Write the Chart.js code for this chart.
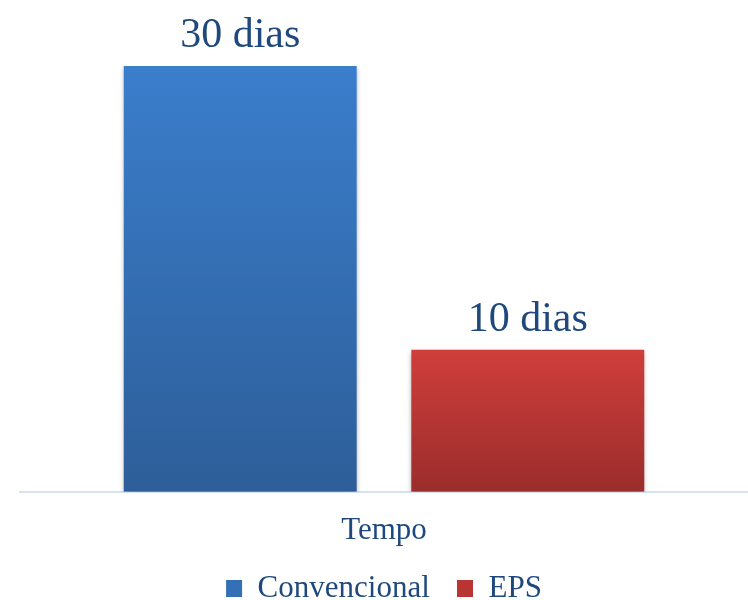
<!DOCTYPE html>
<html>
<head>
<meta charset="utf-8">
<script src="https://cdn.jsdelivr.net/npm/chart.js@4/dist/chart.umd.min.js"></script>
<style>
  html, body { margin: 0; padding: 0; background: #fff; }
  #wrap { width: 748px; height: 600px; }
</style>
</head>
<body>
<div id="wrap"><canvas id="chart"></canvas></div>
<script>
const categories = ['Tempo'];
const seriesNames = ['Convencional', 'EPS'];
const convencional = [30];
const eps = [10];
const unit = 'dias';

const textColor = '#1F497D';
const serif = '"Liberation Serif", "Times New Roman", serif';

// top / bottom colours of each bar's gradient
const blueStops = ['#3B7ECC', '#2D5E99'];
const redStops = ['#CF3E3B', '#9A2D2B'];

function barGradient(stops) {
    return function (ctx) {
        const chart = ctx.chart;
        if (!chart.chartArea || !chart.scales.y) return stops[0];
        const y = chart.scales.y;
        const v = ctx.raw == null ? y.max : ctx.raw;
        const top = y.getPixelForValue(v);
        const bottom = y.getPixelForValue(0);
        const g = chart.ctx.createLinearGradient(0, top, 0, bottom);
        g.addColorStop(0, stops[0]);
        g.addColorStop(1, stops[1]);
        return g;
    };
}

// value labels above bars
const barLabels = {
    id: 'barLabels',
    afterDatasetsDraw(chart) {
        const c = chart.ctx;
        c.save();
        c.font = '42px ' + serif;
        c.fillStyle = textColor;
        c.textAlign = 'center';
        c.textBaseline = 'alphabetic';
        chart.data.datasets.forEach((ds, i) => {
            chart.getDatasetMeta(i).data.forEach((bar, j) => {
                c.fillText(ds.data[j] + ' ' + unit, bar.x, bar.y - 19);
            });
        });
        c.restore();
    }
};

// soft shadow under the bars
const barShadow = {
    id: 'barShadow',
    beforeDatasetsDraw(chart) {
        const c = chart.ctx;
        c.save();
        c.shadowColor = 'rgba(0,0,0,0.35)';
        c.shadowBlur = 5;
        c.shadowOffsetY = 2;
    },
    afterDatasetsDraw(chart) {
        chart.ctx.restore();
    }
};

new Chart(document.getElementById('chart'), {
    type: 'bar',
    data: {
        labels: categories,
        datasets: [
            { label: seriesNames[0], data: convencional, backgroundColor: barGradient(blueStops) },
            { label: seriesNames[1], data: eps, backgroundColor: barGradient(redStops) }
        ]
    },
    options: {
        responsive: true,
        maintainAspectRatio: false,
        animation: false,
        categoryPercentage: 0.79,
        barPercentage: 0.81,
        layout: { padding: { top: 66, left: 20, right: 0, bottom: -14 } },
        scales: {
            x: {
                grid: { display: false, drawTicks: false },
                border: { color: '#D5E2F2', width: 2 },
                ticks: { color: textColor, font: { family: serif, size: 31 }, padding: 20 }
            },
            y: {
                display: false,
                min: 0,
                max: 30
            }
        },
        plugins: {
            tooltip: { enabled: false },
            legend: {
                position: 'bottom',
                labels: {
                    color: textColor,
                    font: { family: serif, size: 31 },
                    boxWidth: 16,
                    boxHeight: 17,
                    padding: 4,
                    generateLabels(chart) {
                        const n = chart.data.datasets.length;
                        return chart.data.datasets.map((ds, i) => ({
                            // trailing spaces keep the gap between items
                            text: i < n - 1 ? ds.label + '   ' : ds.label,
                            fillStyle: i === 0 ? '#3470B5' : '#B83533',
                            strokeStyle: 'rgba(0,0,0,0)',
                            lineWidth: 0,
                            fontColor: textColor,
                            datasetIndex: i
                        }));
                    }
                }
            }
        }
    },
    plugins: [barShadow, barLabels]
});
</script>
</body>
</html>
